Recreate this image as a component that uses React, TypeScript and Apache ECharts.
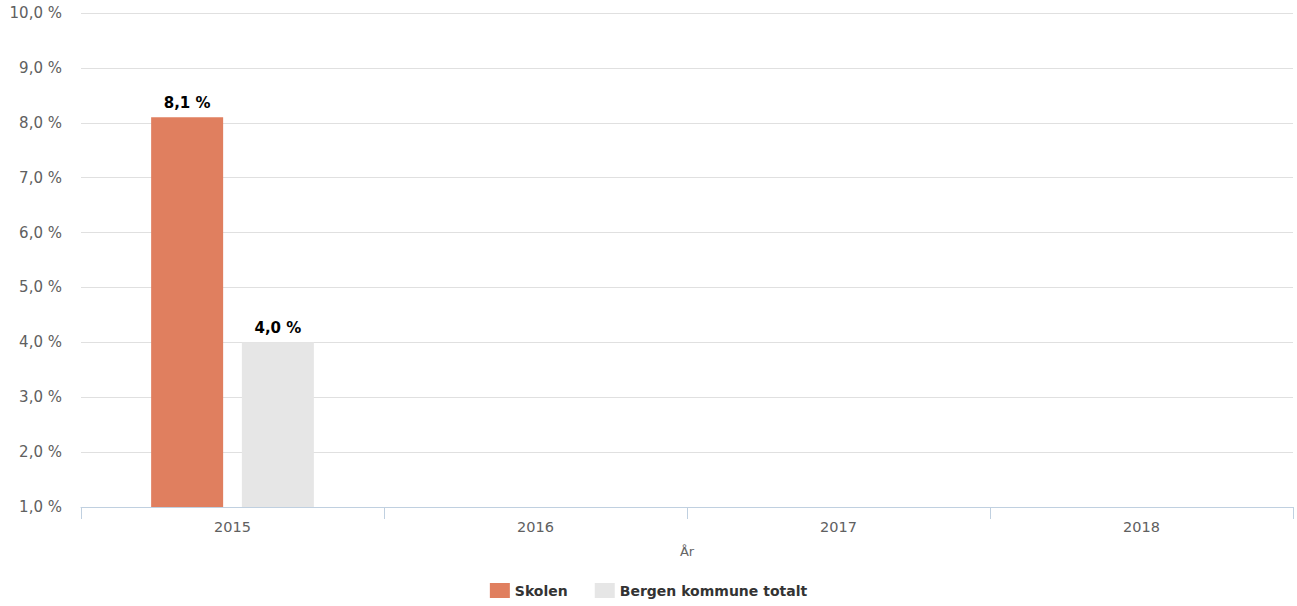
import React, { useEffect, useRef } from "react";
import * as echarts from "echarts";

const categories = ["2015", "2016", "2017", "2018"];
const skolen = [8.1, null, null, null];
const bergen = [4.0, null, null, null];
const seriesNames = ["Skolen", "Bergen kommune totalt"];
const yMin = 1;
const yMax = 10;
const yInterval = 1;

const fmt = (v: number) => v.toFixed(1).replace(".", ",") + " %";

export default function App() {
  const ref = useRef<HTMLDivElement>(null);
  useEffect(() => {
    document.body.style.margin = "0";
    const chart = echarts.init(ref.current!, null, { renderer: "svg" });
    const font = "Verdana, 'DejaVu Sans', sans-serif";
    const label = {
      show: true,
      position: "top",
      distance: 7,
      fontFamily: font,
      fontSize: 15,
      fontWeight: "bold",
      color: "#000",
      formatter: (p: any) => fmt(p.value),
    };
    chart.setOption({
      animation: false,
      textStyle: { fontFamily: font },
      grid: { left: 81, right: 4, top: 13, bottom: 99, containLabel: false },
      legend: {
        bottom: 3,
        left: "center",
        itemWidth: 20,
        itemHeight: 15,
        itemGap: 27,
        icon: "rect",
        textStyle: { fontFamily: font, fontSize: 14, color: "#333", fontWeight: "bold" },
        data: seriesNames,
      },
      xAxis: {
        type: "category",
        data: categories,
        name: "År",
        nameLocation: "middle",
        nameGap: 38,
        nameTextStyle: { fontFamily: font, fontSize: 13, color: "#666" },
        axisLine: { lineStyle: { color: "#c0d0e0" } },
        axisTick: { show: true, length: 12, lineStyle: { color: "#c0d0e0" } },
        axisLabel: { fontFamily: font, fontSize: 14.5, color: "#606060", margin: 12 },
      },
      yAxis: {
        type: "value",
        min: yMin,
        max: yMax,
        interval: yInterval,
        axisLine: { show: false },
        axisTick: { show: false },
        splitLine: { lineStyle: { color: "#e0e0e0" } },
        axisLabel: { fontFamily: font, fontSize: 15, color: "#606060", margin: 19, formatter: (v: number) => fmt(v) },
      },
      series: [
        {
          name: seriesNames[0],
          type: "bar",
          data: skolen,
          barWidth: 72,
          barGap: "26%",
          itemStyle: { color: "#e07f5f" },
          label,
        },
        {
          name: seriesNames[1],
          type: "bar",
          data: bergen,
          barWidth: 72,
          barGap: "26%",
          itemStyle: { color: "#e6e6e6" },
          label,
        },
      ],
    });
    return () => chart.dispose();
  }, []);
  return <div ref={ref} style={{ width: 1297, height: 606 }} />;
}
